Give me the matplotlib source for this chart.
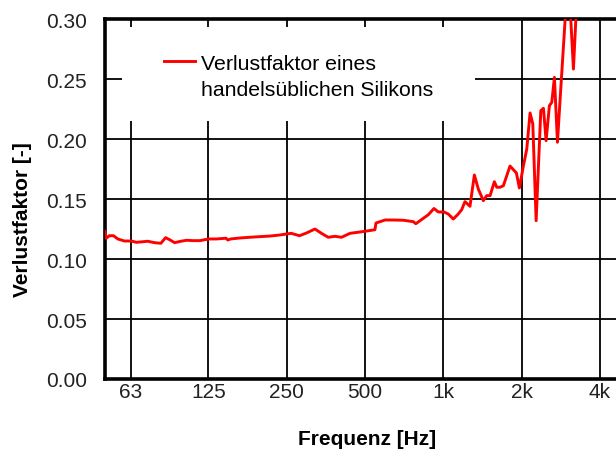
import matplotlib.pyplot as plt
from matplotlib.lines import Line2D
from matplotlib.patches import Rectangle

plt.rcParams['font.family'] = ['Liberation Sans', 'DejaVu Sans']

# frequency [Hz] and loss factor
freq = [50, 50.5, 52, 53.9, 56, 59.4, 63.1, 66, 70, 73, 77.5, 82, 85.5, 88.6,
        92.6, 98, 103, 109, 116, 121, 126, 134, 146, 148.5, 152, 165, 180, 196,
        215, 235, 260, 280, 298, 321, 340, 361, 383, 406, 438, 478, 507, 546,
        551, 597, 642, 702, 767, 784, 838, 876, 921, 957, 1006, 1045, 1093,
        1142, 1177, 1212, 1267, 1317, 1364, 1426, 1469, 1514, 1572, 1606, 1654,
        1703, 1806, 1911, 1962, 2033, 2095, 2157, 2210, 2276, 2372, 2428, 2486,
        2560, 2615, 2676, 2749, 2815, 3023, 3167, 3303]
loss = [0.1228, 0.1173, 0.1194, 0.1194, 0.1167, 0.115, 0.115, 0.1139, 0.1144,
        0.1148, 0.1136, 0.1131, 0.1178, 0.1161, 0.1136, 0.1148, 0.1156, 0.1153,
        0.1153, 0.1161, 0.1167, 0.1167, 0.1173, 0.1158, 0.1167, 0.1175, 0.1181,
        0.1186, 0.1191, 0.120, 0.1214, 0.1194, 0.1217, 0.125, 0.1214, 0.1181,
        0.1189, 0.1181, 0.1214, 0.1225, 0.1233, 0.1244, 0.130, 0.1325, 0.1325,
        0.1323, 0.1311, 0.1294, 0.1339, 0.1369, 0.1421, 0.1392, 0.1392, 0.1375,
        0.1333, 0.1375, 0.1411, 0.1478, 0.1439, 0.170, 0.1583, 0.1486, 0.1528,
        0.1528, 0.1644, 0.1598, 0.1598, 0.1611, 0.1775, 0.1717, 0.1592, 0.1775,
        0.1917, 0.2217, 0.2125, 0.1319, 0.2236, 0.2256, 0.1986, 0.2278, 0.2306,
        0.2514, 0.1973, 0.2333, 0.34, 0.2583, 0.34]

legend_lines = ['Verlustfaktor eines', 'handelsüblichen Silikons']
tick_freqs = [63, 125, 250, 500, 1000, 2000, 4000]
tick_labels = ['63', '125', '250', '500', '1k', '2k', '4k']
y_ticks = [0.00, 0.05, 0.10, 0.15, 0.20, 0.25, 0.30]

fig = plt.figure(figsize=(6.16, 4.52), dpi=100)
# right spine lies just outside the picture, as in the original
ax = fig.add_axes([105 / 616, 72 / 452, 520 / 616, 360 / 452])

curve, = ax.plot(freq, loss, color='#ff0000', lw=2.1, zorder=4)

ax.set_xscale('log')
ax.set_xlim(50, 5000)
ax.set_ylim(0, 0.30)
ax.set_xticks(tick_freqs)
ax.set_xticklabels(tick_labels)
ax.minorticks_off()
ax.set_yticks(y_ticks)
ax.set_yticklabels([f'{v:.2f}' for v in y_ticks])
ax.tick_params(axis='both', length=0, labelsize=15, colors='#222222')
ax.tick_params(axis='x', pad=2)
ax.tick_params(axis='y', pad=13)

ax.grid(True, color='black', lw=1.3, zorder=1)
ax.set_axisbelow(True)
for side in ['left', 'bottom', 'top']:
    ax.spines[side].set_linewidth(2.6)
ax.spines['right'].set_visible(False)

# white area behind the legend hides the grid there
ax.add_patch(Rectangle((0.033, 0.717), 0.679, 0.261, transform=ax.transAxes,
                       facecolor='white', edgecolor='none', zorder=2))
# handle sits on the first line only, second line has no handle
blank = Line2D([], [], color='none')
leg = ax.legend([curve, blank], legend_lines, loc='upper left',
                bbox_to_anchor=(0.113, 0.903), frameon=False,
                fontsize=15.3, handlelength=1.45, handletextpad=0.3,
                labelspacing=0.32, borderaxespad=0, borderpad=0)
leg.set_zorder(5)

fig.text(367 / 616, 1 - 440 / 452, 'Frequenz [Hz]', ha='center', va='center',
         fontsize=15, fontweight='bold')
fig.text(23 / 616, 1 - 220 / 452, 'Verlustfaktor [-]', ha='center',
         va='center', rotation=90, fontsize=15, fontweight='bold')

fig.savefig('out.png', dpi=100)
